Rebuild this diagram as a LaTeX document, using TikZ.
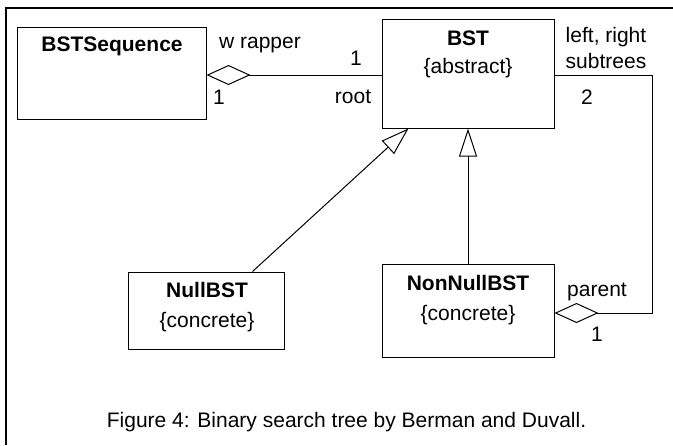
\documentclass[tikz,border=0pt]{standalone}
\usepackage{fontspec}
\setmainfont{Liberation Sans}
\usepackage{tikz}
\usetikzlibrary{arrows.meta,calc,positioning}
\tikzset{
  classbox/.style={draw, line width=0.5pt, inner sep=0pt},
  txt/.style={font=\fontsize{10.5}{12}\selectfont, inner sep=1pt},
  cname/.style={txt, font=\fontsize{10.5}{12}\selectfont\bfseries},
  aggstart/.style={{Diamond[open, length=22pt, width=10pt]}-},
  aggend/.style={-{Diamond[open, length=22pt, width=10pt]}},
  inherit/.style={-{Triangle[open, length=14pt, width=9pt]}},
  link/.style={line width=0.5pt}
}

\begin{document}
\begin{tikzpicture}[x=0.5pt, y=-0.5pt]
  \useasboundingbox (0,0) rectangle (673,445);
  % frame
  \draw[line width=1.2pt] (673,8) -- (6,8) -- (6,445);

  % classes
  \node[classbox, minimum width=94.5pt, minimum height=46pt]
    (bstseq) at (111.5,73) {};
  \node[cname] (bstseqname) at (112,46) {BSTSequence};

  \node[classbox, minimum width=86pt, minimum height=54.5pt]
    (bst) at (468,73.5) {};
  \node[cname] (bstname) at (468,38) {BST};
  \node[txt] (bstkind) at (468,68) {\{abstract\}};

  \node[classbox, minimum width=78pt, minimum height=38.5pt]
    (nullbst) at (206,310.5) {};
  \node[cname] (nullname) at (207,290) {NullBST};
  \node[txt] (nullkind) at (207,322) {\{concrete\}};

  \node[classbox, minimum width=86pt, minimum height=46.5pt]
    (nonnull) at (468,310.5) {};
  \node[cname] (nonnullname) at (468,283) {NonNullBST};
  \node[txt] (nonnullkind) at (468,315) {\{concrete\}};

  % wrapper / root aggregation
  \draw[link, aggstart] (bstseq.east |- 0,75) -- (bst.west |- 0,75);
  \node[txt] (wrapper) at (260,45) {w rapper};
  \node[txt] (mulseq) at (219,97) {1};
  \node[txt] (mulbst) at (356,58) {1};
  \node[txt] (root) at (353,97) {root};

  % subtrees / parent aggregation
  \coordinate (turn) at (652,75);
  \draw[link, aggend] (bst.east |- turn) -- (turn)
    |- (nonnull.east |- 0,313);
  \node[txt, align=center] (subtrees) at (606,48)
    {left, right\\[1pt]subtrees};
  \node[txt] (multwo) at (587,97) {2};
  \node[txt] (parent) at (597,292) {parent};
  \node[txt] (mulone) at (597,334) {1};

  % generalisation
  \draw[link, inherit] ($(nullbst.north east)+(-32,0)$)
    -- ($(bst.south west)+(27,0)$);
  \draw[link, inherit] (nonnull.north) -- (bst.south);

  % caption
  \node[txt] (caption) at (346.5,422)
    {Figure 4: Binary search tree by Berman and Duvall.};
\end{tikzpicture}
\end{document}
